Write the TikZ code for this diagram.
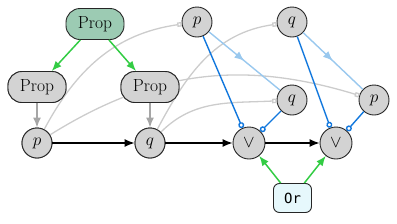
\documentclass[tikz,border=0pt]{standalone}
\usepackage{fontspec}
\newfontfamily\dvsm{DejaVu Sans Mono}
\usetikzlibrary{arrows.meta,decorations.markings}
\definecolor{propgreen}{HTML}{9CCBB3}
\definecolor{nodegray}{HTML}{D3D3D3}
\definecolor{arrgreen}{HTML}{33CC44}
\definecolor{cblue}{HTML}{1177DD}
\definecolor{lblue}{HTML}{99C8EE}
\definecolor{curvegray}{HTML}{CCCCCC}
\definecolor{orfill}{HTML}{E6F8FC}
\newcommand{\bigfont}{\fontsize{17.5}{20}\selectfont}
\tikzset{
  propbox/.style={draw=black!85, line width=0.9pt, fill=nodegray, rounded corners=14pt,
    minimum width=58pt, minimum height=31pt, inner sep=0pt, font=\bigfont},
  varnode/.style={draw=black!85, line width=0.9pt, fill=nodegray, circle, minimum size=30pt,
    inner sep=0pt, font=\bigfont},
  ornode/.style={draw=black!85, line width=0.9pt, fill=nodegray, circle, minimum size=32pt,
    inner sep=0pt, font=\bigfont},
  orbox/.style={draw=black!85, line width=0.9pt, fill=orfill, rounded corners=6pt,
    minimum width=38pt, minimum height=29pt, inner sep=0pt, font=\dvsm\fontsize{14}{16}\selectfont},
  greenarr/.style={draw=arrgreen, line width=1.5pt, -{Latex[length=10pt,width=8pt]}},
  grayarr/.style={draw=black!35, line width=1.5pt, -{Latex[length=10pt,width=8pt]}},
  blackarr/.style={draw=black, line width=1.3pt, -{Latex[length=10pt,width=8pt]}},
  graycurve/.style={draw=curvegray, line width=1.3pt, -{Square[open,length=4.5pt,width=4.5pt,fill=white]}},
  bluelink/.style={draw=cblue, line width=1.4pt, -{Circle[open,length=6pt,width=6pt,fill=white]}},
  lbluearr/.style={draw=lblue, line width=1.4pt, postaction={decorate},
    decoration={markings, mark=at position 0.5 with {\arrow{Latex[length=10pt,width=8pt]}}}},
}
\begin{document}
\begin{tikzpicture}[x=1pt,y=-1pt]
\useasboundingbox (0,0) rectangle (397,223);
\node[propbox, fill=propgreen] (P0) at (95,24) {Prop};
\node[propbox] (PL) at (37,87) {Prop};
\node[propbox] (PR) at (150,87) {Prop};
\node[varnode] (p) at (37,143) {$p$};
\node[varnode] (q) at (150,143) {$q$};
\node[ornode] (o1) at (249,143) {$\vee$};
\node[ornode] (o2) at (336,143) {$\vee$};
\node[varnode] (tp) at (197,22) {$p$};
\node[varnode] (tq) at (292,22) {$q$};
\node[varnode] (mq) at (292,100) {$q$};
\node[varnode] (rp) at (374,100) {$p$};
\node[orbox] (Or) at (292.5,198) {Or};
% gray curves
\draw[graycurve] (p) to[out=62,in=188] (tp);
\draw[graycurve] (p) to[out=32,in=163] (rp);
\draw[graycurve] (q) to[out=62,in=188] (tq);
\draw[graycurve] (q) to[out=45,in=183] (mq);
% redraw nodes over curves
\node[propbox] at (PR) {Prop};
\node[propbox] at (PL) {Prop};
\node[varnode] at (p) {$p$};
\node[varnode] at (q) {$q$};
% arrows
\draw[greenarr] (P0) -- (PL);
\draw[greenarr] (P0) -- (PR);
\draw[grayarr] (PL) -- (p);
\draw[grayarr] (PR) -- (q);
\draw[blackarr] (p) -- (q);
\draw[blackarr] (q) -- (o1);
\draw[blackarr] (o1) -- (o2);
\draw[lbluearr] (tp) -- (mq);
\draw[lbluearr] (tq) -- (rp);
\draw[bluelink] (tp) -- (o1);
\draw[bluelink] (tq) -- (o2);
\draw[bluelink] (mq) -- (o1);
\draw[bluelink] (rp) -- (o2);
\draw[greenarr] (Or) -- (o1);
\draw[greenarr] (Or) -- (o2);
\end{tikzpicture}
\end{document}
